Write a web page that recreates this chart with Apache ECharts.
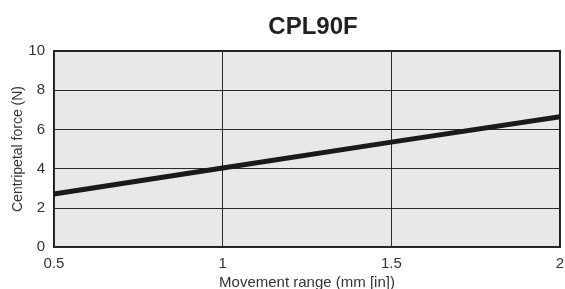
<!DOCTYPE html>
<html>
<head>
<meta charset="utf-8">
<script src="https://cdn.jsdelivr.net/npm/echarts@6/dist/echarts.min.js"></script>
<style>
  html, body { margin: 0; padding: 0; background: #fff; }
  #chart { width: 565px; height: 289px; }
</style>
</head>
<body>
<div id="chart"></div>
<script>
// movement range (mm) and centripetal force (N)
const movement = [0.5, 1, 1.5, 2];
const force = [2.7, 4.03, 5.35, 6.65];

let myChart = echarts.init(document.getElementById("chart"));
myChart.setOption({
  animation: false,
  title: {
    text: "CPL90F",
    left: 308,
    top: 10,
    textAlign: "center",
    textStyle: {
      fontFamily: "Liberation Sans, Arial, sans-serif",
      fontSize: 24,
      fontWeight: "bold",
      color: "#222",
    },
  },
  grid: {
    left: 54,
    right: 5,
    top: 51,
    bottom: 42,
    containLabel: false,
    outerBoundsMode: "none", // 固定绘图区，不因标签而收缩
    show: true,
    backgroundColor: "#e8e8e8",
    borderColor: "#1e1e1e",
    borderWidth: 2,
  },
  xAxis: {
    type: "value",
    min: 0.5,
    max: 2,
    interval: 0.5,
    name: "Movement range (mm [in])",
    nameLocation: "middle",
    nameGap: 28,
    nameMoveOverlap: false,
    nameTextStyle: {
      fontFamily: "Liberation Sans, Arial, sans-serif",
      fontSize: 15,
      color: "#333",
    },
    axisLine: { show: false },
    axisTick: { show: false },
    axisLabel: {
      margin: 9,
      fontFamily: "Liberation Sans, Arial, sans-serif",
      fontSize: 15,
      color: "#333",
    },
    splitLine: {
      show: true,
      lineStyle: { color: "#2a2a2a", width: 1 }, // 网格线
    },
  },
  yAxis: {
    type: "value",
    min: 0,
    max: 10,
    interval: 2,
    name: "Centripetal force (N)",
    nameLocation: "middle",
    nameGap: 29,
    nameMoveOverlap: false,
    nameTextStyle: {
      fontFamily: "Liberation Sans, Arial, sans-serif",
      fontSize: 14,
      color: "#333",
    },
    axisLine: { show: false },
    axisTick: { show: false },
    axisLabel: {
      margin: 9,
      fontFamily: "Liberation Sans, Arial, sans-serif",
      fontSize: 15,
      color: "#333",
    },
    splitLine: {
      show: true,
      lineStyle: { color: "#2a2a2a", width: 1 },
    },
  },
  series: [
    {
      type: "line",
      data: movement.map((m, i) => [m, force[i]]),
      showSymbol: false,
      lineStyle: { color: "#1a1a1a", width: 5 },
      z: 5,
    },
  ],
});
</script>
</body>
</html>
